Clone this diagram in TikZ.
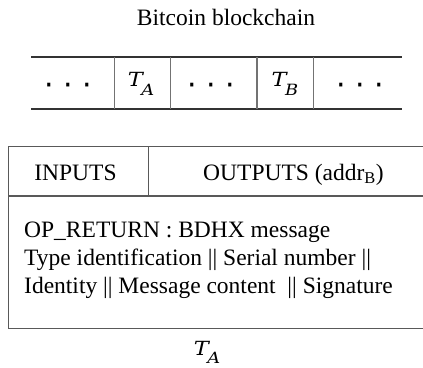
\documentclass[tikz,border=0pt]{standalone}
\usepackage{fontspec}
\setmainfont{Liberation Serif}
\newfontfamily\dotfont{DejaVu Sans}
\newfontfamily\mathlikefont{DejaVu Serif}
\newcommand{\TT}[1]{\scalebox{1.15}[1]{{\mathlikefont\itshape\fontsize{19.5}{19.5}\selectfont T}\kern-1.2pt\raisebox{-8.5pt}{\mathlikefont\itshape\fontsize{15.5}{15.5}\selectfont #1}}}
\begin{document}
\begin{tikzpicture}[x=1pt,y=-1pt,
  txt/.style={inner sep=0pt,font=\fontsize{23.5}{28}\selectfont},
  mathlbl/.style={inner sep=0pt},
  chainline/.style={draw=black!80,line width=1.1pt},
  divline/.style={draw=black!55,line width=1.1pt},
  boxline/.style={draw=black!65,line width=1.2pt}]
\useasboundingbox (0,0) rectangle (423,367);
% title
\node[txt,anchor=base] (title) at (226,25) {Bitcoin blockchain};
% chain
\draw[chainline] (31,57) -- (402,57);
\draw[chainline] (31,109) -- (402,109);
\foreach \xx in {114.3,170.3,257,313.3}
  \draw[divline] (\xx,57) -- (\xx,109);
\newcommand{\threedots}{\dotfont\fontsize{30}{30}\selectfont\makebox[19pt]{·}\makebox[19pt]{·}\makebox[19pt]{·}}
\node[inner sep=0pt] (d1) at (68.3,89.5) {\threedots};
\node[inner sep=0pt] (d2) at (211.7,89.5) {\threedots};
\node[inner sep=0pt] (d3) at (360,89.5) {\threedots};
\node[mathlbl,anchor=base] (ta) at (141,86.7) {\TT{A}};
\node[mathlbl,anchor=base] (tb) at (285,86.7) {\TT{B}};
% transaction box
\draw[boxline] (423,146.7) -- (8.3,146.7) -- (8.3,328.5) -- (423,328.5);
\draw[boxline] (8.3,196) -- (423,196);
\draw[boxline] (148.3,146.7) -- (148.3,196);
\node[txt,anchor=base] (inputs) at (75.5,180) {INPUTS};
\node[txt,anchor=base] (outputs) at (293.5,180) {OUTPUTS (addr\textsubscript{B})};
\node[txt,anchor=base west] (l1) at (24,237.3) {OP\_RETURN : BDHX message};
\node[txt,anchor=base west] (l2) at (24,265) {Type identification || Serial number ||};
\node[txt,anchor=base west] (l3) at (24,293) {Identity || Message content~ || Signature};
\node[mathlbl,anchor=base] (tacap) at (207,355) {\TT{A}};
\end{tikzpicture}
\end{document}
